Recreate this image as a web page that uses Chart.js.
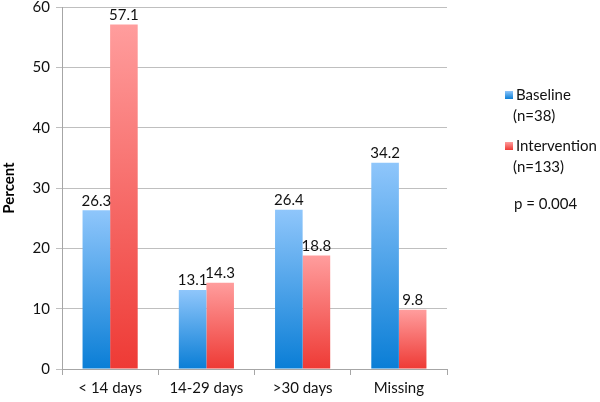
<!DOCTYPE html>
<html>
<head>
<meta charset="utf-8">
<script src="https://cdn.jsdelivr.net/npm/chart.js@4/dist/chart.umd.min.js"></script>
<style>
html,body{margin:0;padding:0;background:#fff;}
#wrap{position:relative;width:600px;height:402px;}
</style>
</head>
<body>
<div id="wrap"><canvas id="c" width="600" height="402"></canvas></div>
<script>
const categories = ["< 14 days", "14-29 days", ">30 days", "Missing"];
const baseline = [26.3, 13.1, 26.4, 34.2];
const intervention = [57.1, 14.3, 18.8, 9.8];
const seriesNames = [["Baseline", "(n=38)"], ["Intervention", "(n=133)"]];
const noteText = "p = 0.004";
const yTicks = [0, 10, 20, 30, 40, 50, 60];

const FONT = "Lato, 'Open Sans', sans-serif";

function barGradient(top, bottom) {
  return function(ctx) {
    const chart = ctx.chart;
    if (!chart.chartArea || ctx.type !== 'data') return bottom;
    const y = chart.scales.y;
    const yTop = y.getPixelForValue(ctx.raw);
    const yBot = y.getPixelForValue(0);
    if (!isFinite(yTop) || !isFinite(yBot) || yTop === yBot) return bottom;
    const g = chart.ctx.createLinearGradient(0, yTop, 0, yBot);
    g.addColorStop(0, top);
    g.addColorStop(1, bottom);
    return g;
  };
}

const blueTop = "#8fc6fb", blueBot = "#0a7ed6";
const redTop = "#ff9d9d", redBot = "#ee3a35";

const valueLabels = {
  id: 'valueLabels',
  afterDatasetsDraw(chart) {
    const ctx = chart.ctx;
    ctx.save();
    ctx.font = "15px " + FONT;
    ctx.fillStyle = "#111";
    ctx.textAlign = "center";
    ctx.textBaseline = "bottom";
    chart.data.datasets.forEach((ds, di) => {
      chart.getDatasetMeta(di).data.forEach((bar, i) => {
        ctx.fillText(ds.data[i].toFixed(1), bar.x, bar.y - 2);
      });
    });
    ctx.restore();
  }
};

const sideLegend = {
  id: 'sideLegend',
  afterDraw(chart) {
    const ctx = chart.ctx;
    ctx.save();
    ctx.font = "15px " + FONT;
    ctx.fillStyle = "#111";
    ctx.textBaseline = "middle";
    ctx.textAlign = "left";
    const items = [
      {y: 95, top: blueTop, bot: blueBot},
      {y: 146, top: redTop, bot: redBot}
    ];
    items.forEach((it, k) => {
      const g = ctx.createLinearGradient(0, it.y - 4, 0, it.y + 4);
      g.addColorStop(0, it.top); g.addColorStop(1, it.bot);
      ctx.fillStyle = g;
      ctx.fillRect(505, it.y - 4, 8, 8);
      ctx.fillStyle = "#111";
      ctx.fillText(seriesNames[k][0], 516, it.y);
      ctx.fillText(seriesNames[k][1], 513, it.y + 21);
    });
    ctx.fillText(noteText, 514, 204);
    ctx.restore();
  }
};

new Chart(document.getElementById('c'), {
  type: 'bar',
  data: {
    labels: categories,
    datasets: [
      {label: seriesNames[0].join(' '), data: baseline, backgroundColor: barGradient(blueTop, blueBot), borderWidth: 0},
      {label: seriesNames[1].join(' '), data: intervention, backgroundColor: barGradient(redTop, redBot), borderWidth: 0}
    ]
  },
  options: {
    responsive: false,
    animation: false,
    devicePixelRatio: 1,
    layout: {padding: {top: 7, right: 153, left: 0, bottom: 0}},
    datasets: {bar: {categoryPercentage: 0.573, barPercentage: 1.0}},
    plugins: {legend: {display: false}, tooltip: {enabled: false}},
    scales: {
      x: {
        grid: {display: true, drawOnChartArea: false, drawTicks: true, tickLength: 6, color: "#a6a6a6", offset: true},
        border: {display: true, color: "#a6a6a6"},
        ticks: {font: {family: FONT, size: 15}, color: "#111", padding: 4, maxRotation: 0},
        afterFit(s) { s.height = 33; s.paddingLeft = 0; s.paddingRight = 0; }
      },
      y: {
        min: 0, max: 60,
        afterBuildTicks(s) { s.ticks = yTicks.map(v => ({value: v})); },
        grid: {color: "#bfbfbf", tickLength: 6, drawTicks: true},
        border: {display: true, color: "#a6a6a6"},
        ticks: {font: {family: FONT, size: 15}, color: "#111", padding: 6},
        title: {display: true, text: "Percent", font: {family: FONT, size: 15, weight: 'bold'}, color: "#000", padding: 0},
        afterFit(s) { s.width = 62; s.paddingTop = 0; s.paddingBottom = 0; }
      }
    }
  },
  plugins: [valueLabels, sideLegend]
});
</script>
</body>
</html>
